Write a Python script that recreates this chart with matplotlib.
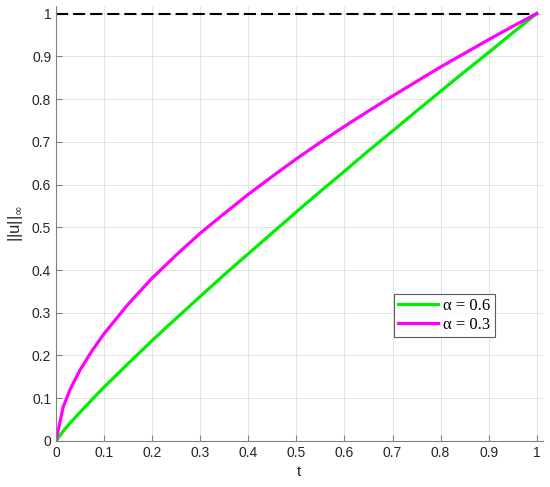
import matplotlib
matplotlib.use("Agg")
import matplotlib.pyplot as plt

# sample times and values
t = [0, 0.015, 0.03, 0.05, 0.075, 0.1, 0.15, 0.2, 0.25, 0.3, 0.35, 0.4,
     0.45, 0.5, 0.55, 0.6, 0.65, 0.7, 0.75, 0.8, 0.85, 0.9, 0.95, 1.0]
u_alpha06 = [0, 0.023, 0.043, 0.067, 0.097, 0.126, 0.181, 0.235, 0.287, 0.338,
             0.389, 0.438, 0.487, 0.536, 0.584, 0.631, 0.679, 0.725, 0.772,
             0.818, 0.864, 0.909, 0.955, 1.0]
u_alpha03 = [0, 0.080, 0.122, 0.166, 0.211, 0.251, 0.320, 0.381, 0.435, 0.486,
             0.532, 0.577, 0.619, 0.660, 0.699, 0.736, 0.772, 0.807, 0.841,
             0.875, 0.907, 0.939, 0.970, 1.0]
bound_t = [0, 1]
bound_u = [1, 1]
labels = ['α = 0.6', 'α = 0.3']
ticks = [i / 10 for i in range(11)]
tick_labels = ['0', '0.1', '0.2', '0.3', '0.4', '0.5', '0.6', '0.7', '0.8', '0.9', '1']

plt.rcParams['font.family'] = ['Liberation Sans', 'DejaVu Sans']
plt.rcParams['mathtext.fontset'] = 'custom'
plt.rcParams['mathtext.rm'] = 'DejaVu Sans'

fig = plt.figure(figsize=(5.5, 4.87), dpi=100)
ax = fig.add_axes([0.1018, 0.0945, 0.885, 0.893])

ax.plot(bound_t, bound_u, color='black', lw=1.5, dashes=(5.8, 2.4))
l1, = ax.plot(t, u_alpha06, color='#00ee00', lw=2.3)
l2, = ax.plot(t, u_alpha03, color='#ff00ff', lw=2.3)

ax.set_xlim(0, 1.0125)
ax.set_ylim(0, 1.0175)
ax.set_xticks(ticks)
ax.set_xticklabels(tick_labels)
ax.set_yticks(ticks)
ax.set_yticklabels(tick_labels)
ax.grid(True, color='#e3e3e3', lw=0.7)
ax.set_axisbelow(True)
for side in ['top', 'right']:
    ax.spines[side].set_visible(False)
for side in ['left', 'bottom']:
    ax.spines[side].set_color('#808080')
    ax.spines[side].set_linewidth(0.8)
ax.tick_params(direction='in', length=4, width=0.8, colors='#808080',
               labelcolor='#262626', labelsize=10)

ax.set_xlabel('t', fontsize=11, color='#262626', labelpad=4)
ax.set_ylabel(r'||u||$_{\mathrm{∞}}$', fontsize=12, color='#262626', labelpad=5)

leg = ax.legend([l1, l2], labels, loc='upper left',
                bbox_to_anchor=(0.695, 0.338), frameon=True, fancybox=False,
                handlelength=2.4, handletextpad=0.3, borderpad=0.25,
                labelspacing=0.15, borderaxespad=0,
                prop={'family': 'Liberation Serif', 'size': 12})
leg.get_frame().set_edgecolor('#333333')
leg.get_frame().set_linewidth(0.8)

fig.savefig('out.png', dpi=100)
